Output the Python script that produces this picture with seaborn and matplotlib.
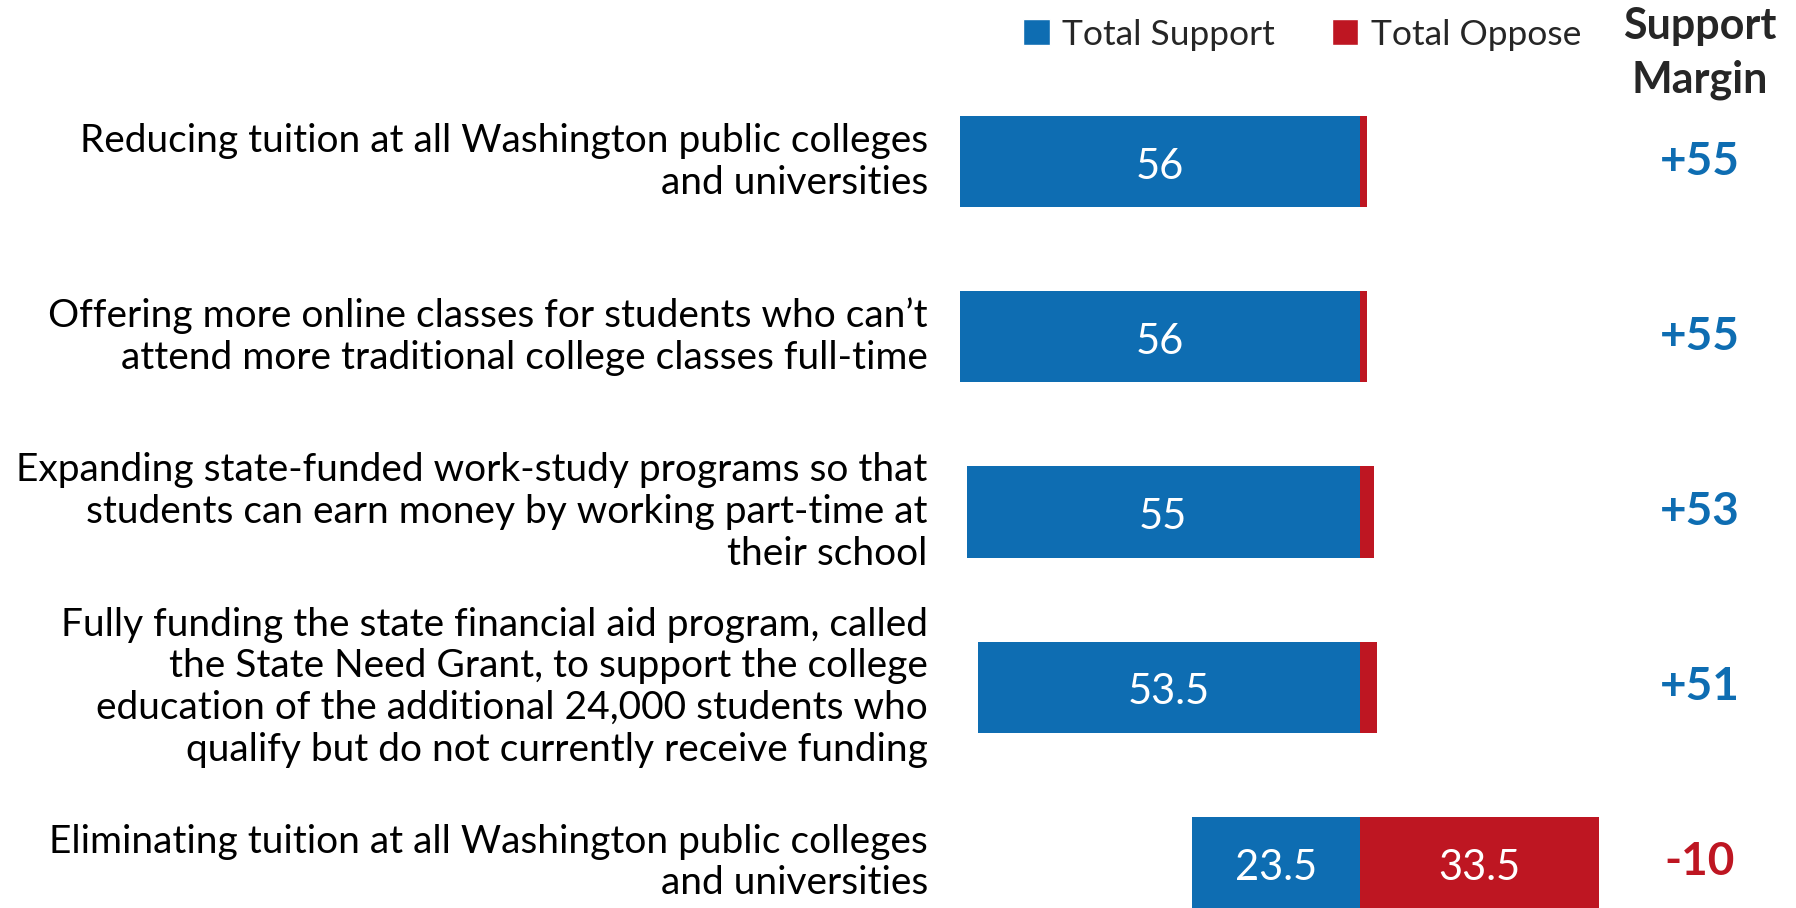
import matplotlib
matplotlib.use("Agg")
import matplotlib.pyplot as plt
from matplotlib.patches import Patch
import pandas as pd
import seaborn as sns

# ── Data ────────────────────────────────────────────────────────────────
items = [
    "Reducing tuition at all Washington public colleges\nand universities",
    "Offering more online classes for students who can\u2019t\nattend more traditional college classes full-time",
    "Expanding state-funded work-study programs so that\nstudents can earn money by working part-time at\ntheir school",
    "Fully funding the state financial aid program, called\nthe State Need Grant, to support the college\neducation of the additional 24,000 students who\nqualify but do not currently receive funding",
    "Eliminating tuition at all Washington public colleges\nand universities",
]
support = [56, 56, 55, 53.5, 23.5]
oppose = [1, 1, 2, 2.5, 33.5]
margins = ["+55", "+55", "+53", "+51", "-10"]

BLUE = "#0E6DB2"
RED = "#BE1622"

df = pd.DataFrame({"item": items, "support": support, "oppose": oppose})
df["neg_support"] = -df["support"]

sns.set_style("white")
plt.rcParams["font.family"] = ["Lato", "DejaVu Sans"]

fig = plt.figure(figsize=(17.96, 9.08), dpi=100)
ax = fig.add_axes([0.5265, 0.0, 0.3775, 0.9185])

sns.barplot(data=df, x="neg_support", y="item", orient="h", color=BLUE,
            width=0.52, saturation=1, linewidth=0, ax=ax)
sns.barplot(data=df, x="oppose", y="item", orient="h", color=RED,
            width=0.52, saturation=1, linewidth=0, ax=ax)

ax.set_xlim(-58, 37)
ax.set_ylim(4.26, -0.5)
ax.set_xlabel("")
ax.set_ylabel("")
ax.set_xticks([])
ax.set_yticks([])
for spine in ax.spines.values():
    spine.set_visible(False)

# value labels inside bars
for i, (s, o) in enumerate(zip(support, oppose)):
    ax.text(-s / 2, i + 0.03, f"{s:g}", ha="center", va="center",
            color="white", fontsize=30)
    if o > 5:
        ax.text(o / 2, i + 0.03, f"{o:g}", ha="center", va="center",
                color="white", fontsize=30)

# item labels on the left
for i, label in enumerate(items):
    ax.text(-60.5, i, label, ha="right", va="center", fontsize=28,
            linespacing=1.2, color="black")

# support margin column
for i, m in enumerate(margins):
    ax.text(47.7, i, m, ha="center", va="center", fontsize=33,
            fontweight="bold", color=RED if m.startswith("-") else BLUE)

fig.text(0.9465, 0.942, "Support\nMargin", ha="center", va="center",
         fontsize=31, fontweight="bold", linespacing=1.4)

handles = [Patch(facecolor=BLUE, label="Total Support"),
           Patch(facecolor=RED, label="Total Oppose")]
fig.legend(handles=handles, loc="center", bbox_to_anchor=(0.725, 0.962),
           ncol=2, frameon=False, fontsize=25.5, handlelength=0.75,
           handleheight=0.75, handletextpad=0.35, columnspacing=1.6)

fig.savefig("out.png", dpi=100, facecolor="white")
